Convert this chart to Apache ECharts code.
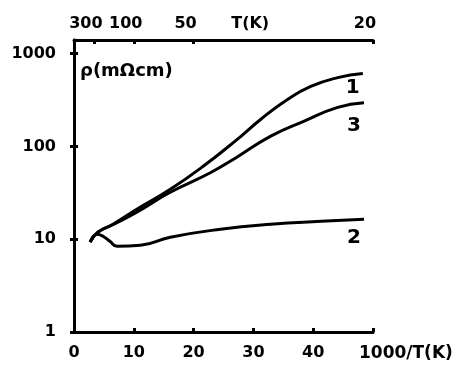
<!DOCTYPE html>
<html>
<head>
<meta charset="utf-8">
<script src="https://cdn.jsdelivr.net/npm/echarts@6/dist/echarts.min.js"></script>
<style>
  html, body { margin: 0; padding: 0; background: #fff; }
  #main { width: 462px; height: 367px; }
</style>
</head>
<body>
<div id="main"></div>
<script>
// x = 1000/T, y = resistivity (mOhm cm)
var curve1 = [[2.7, 9.3], [4.0, 11.9], [6.5, 14.5], [10.5, 21], [16.1, 34.5], [21.6, 61], [27.3, 119], [31.2, 195], [35.7, 320], [39.6, 442], [44.1, 550], [48.3, 610]];
var curve3 = [[2.7, 9.3], [4.0, 11.9], [6.5, 14.3], [10.5, 19.5], [16.1, 32], [22.8, 52], [27.3, 77], [32.9, 129], [38.4, 186], [44.1, 263], [48.5, 295]];
var curve2 = [[2.7, 9.3], [3.9, 11.3], [4.9, 10.7], [6.0, 9.5], [7.2, 8.4], [11.1, 8.6], [16.1, 10.5], [24.5, 12.8], [32.9, 14.5], [41.3, 15.6], [48.5, 16.4]];
var curveNames = ['1', '3', '2'];
var topTempTicks = [300, 100, 50, 20];
var topTitlePos = 30.8; // where "T(K)" sits on the top scale
var yTicks = [1, 10, 100, 1000];

var font = 'DejaVu Sans';
var ink = '#000';

var chartDom = document.getElementById('main');
var myChart = echarts.init(chartDom);
var option;

function lineSeries(name, data, labelOffset) {
  return {
    name: name,
    type: 'line',
    data: data,
    smooth: true,
    showSymbol: false,
    lineStyle: { color: ink, width: 3 },
    endLabel: {
      show: true,
      formatter: name,
      color: ink,
      fontFamily: font,
      fontWeight: 'bold',
      fontSize: 20,
      offset: labelOffset
    }
  };
}

var tempTickValues = topTempTicks.map(function (t) { return 1000 / t; });

option = {
  animation: false,
  backgroundColor: '#fff',
  grid: { left: 74, right: 89, top: 40, bottom: 35, outerBoundsMode: 'none', containLabel: false },
  xAxis: [
    {
      type: 'value',
      position: 'bottom',
      min: 0,
      max: 50,
      interval: 10,
      axisLine: { show: true, lineStyle: { color: ink, width: 3 } },
      axisTick: { show: true, inside: true, length: 4, lineStyle: { color: ink, width: 3 } },
      splitLine: { show: false },
      axisLabel: {
        color: ink, fontFamily: font, fontWeight: 'bold', fontSize: 16, margin: 13,
        formatter: function (v) { return v === 50 ? '' : String(v); }
      },
      name: '1000/T(K)',
      nameLocation: 'end',
      nameGap: -14,
      nameTextStyle: { color: ink, fontFamily: font, fontWeight: 'bold', fontSize: 17, align: 'left', verticalAlign: 'top', padding: [13, 0, 0, 0] }
    },
    {
      type: 'value',
      position: 'top',
      min: 0,
      max: 50,
      axisLine: { show: true, lineStyle: { color: ink, width: 3 } },
      axisTick: { show: true, inside: true, length: 4, lineStyle: { color: ink, width: 3 },
        customValues: tempTickValues },
      splitLine: { show: false },
      axisLabel: {
        color: ink, fontFamily: font, fontWeight: 'bold', fontSize: 16, margin: 8,
        padding: [0, 16, 0, 0],
        customValues: tempTickValues.concat([topTitlePos]),
        formatter: function (v) { return v === topTitlePos ? 'T(K)' : String(Math.round(1000 / v)); }
      }
    }
  ],
  yAxis: [
    {
      type: 'log',
      logBase: 10,
      min: 1,
      max: 1400,
      position: 'left',
      axisLine: { show: true, lineStyle: { color: ink, width: 3 } },
      axisTick: { show: true, inside: true, length: 4, lineStyle: { color: ink, width: 3 },
        customValues: yTicks },
      splitLine: { show: false },
      axisLabel: {
        color: ink, fontFamily: font, fontWeight: 'bold', fontSize: 16, margin: 18,
        customValues: yTicks,
        formatter: function (v) { return String(v); }
      },
      name: 'ρ(mΩcm)',
      nameLocation: 'end',
      nameGap: -40,
      nameTextStyle: { color: ink, fontFamily: font, fontWeight: 'bold', fontSize: 18, align: 'left', padding: [0, 0, 0, 6] }
    },
    {
      type: 'log',
      logBase: 10,
      min: 1,
      max: 1400,
      position: 'right',
      axisLine: { show: true, lineStyle: { color: ink, width: 3 } },
      axisTick: { show: true, inside: true, length: 4, lineStyle: { color: ink, width: 3 },
        customValues: yTicks },
      axisLabel: { show: false },
      splitLine: { show: false }
    }
  ],
  series: [
    lineSeries(curveNames[0], curve1, [-25, 14]),
    lineSeries(curveNames[1], curve3, [-25, 23]),
    lineSeries(curveNames[2], curve2, [-25, 19])
  ]
};

option && myChart.setOption(option);
</script>
</body>
</html>
